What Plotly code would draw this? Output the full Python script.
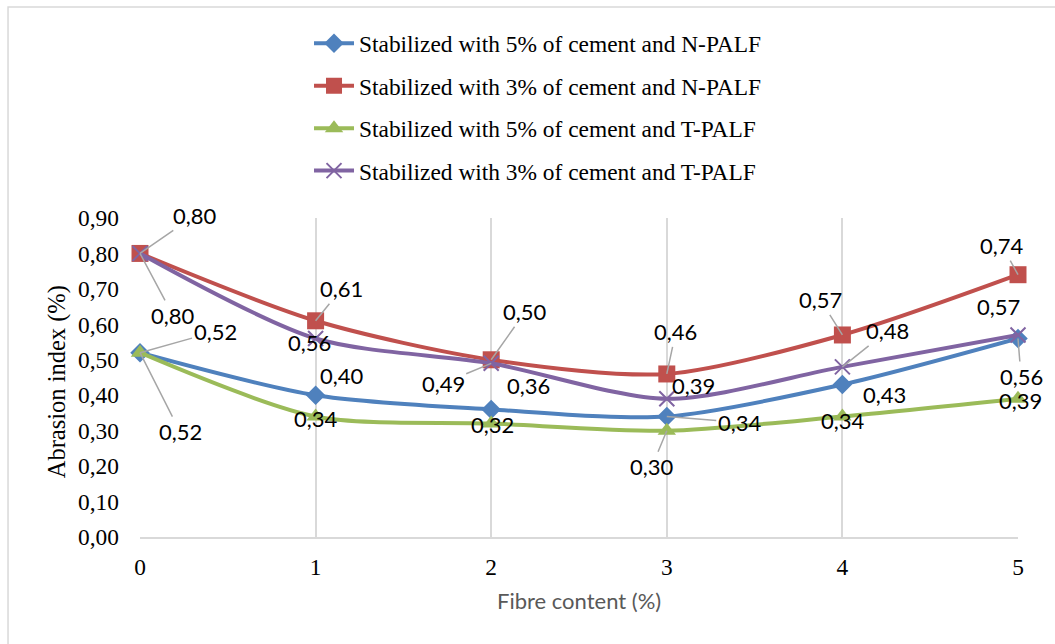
import plotly.graph_objects as go

# Fibre content (%) on the x axis
fibre = [0, 1, 2, 3, 4, 5]

# Abrasion index (%) for each mix
n_palf_5 = [0.52, 0.40, 0.36, 0.34, 0.43, 0.56]
n_palf_3 = [0.80, 0.61, 0.50, 0.46, 0.57, 0.74]
t_palf_5 = [0.52, 0.34, 0.32, 0.30, 0.34, 0.39]
t_palf_3 = [0.80, 0.56, 0.49, 0.39, 0.48, 0.57]

series_names = [
    "Stabilized with 5% of cement and N-PALF",
    "Stabilized with 3% of cement and N-PALF",
    "Stabilized with 5% of cement and T-PALF",
    "Stabilized with 3% of cement and T-PALF",
]

y_ticks = [0.0, 0.1, 0.2, 0.3, 0.4, 0.5, 0.6, 0.7, 0.8, 0.9]

# styling per series
colors = ["#4F81BD", "#C0504D", "#9BBB59", "#8064A2"]
symbols = ["diamond", "square", "triangle-up", "x-thin"]
msizes = [15, 17, 16, 15]

# label placement: pixel offsets (dx right, dy down) from each point, leader line flag
label_offsets = [
    [(75, -21, True), (26, -20, False), (37, -24, False), (73, 6, True), (42, 10, False), (3, 38, True)],
    [(55, -38, True), (26, -32, True), (34, -48, True), (9, -42, True), (-22, -35, True), (-16, -29, True)],
    [(40, 79, True), (0, 2, False), (1, 1, False), (-15, 36, True), (1, 4, False), (2, 2, False)],
    [(33, 62, True), (-6, 4, False), (-48, 20, True), (27, -13, False), (45, -36, True), (-20, -28, False)],
]

all_series = [n_palf_5, n_palf_3, t_palf_5, t_palf_3]

serif = "Liberation Serif, Times New Roman, serif"
sans = "Lato, Liberation Sans, sans-serif"

fig = go.Figure()
for i, (name, vals) in enumerate(zip(series_names, all_series)):
    marker = dict(symbol=symbols[i], size=msizes[i], color=colors[i])
    if symbols[i] == "x-thin":
        marker["line"] = dict(color=colors[i], width=2)
    fig.add_trace(go.Scatter(
        x=fibre, y=vals, name=name, mode="lines+markers",
        line=dict(color=colors[i], width=4, shape="spline", smoothing=0.8),
        marker=marker, cliponaxis=False, legendgroup=f"g{i}",
    ))

label_font = dict(family=sans, size=22, color="#000000")
annotations = []
for vals, offs in zip(all_series, label_offsets):
    for xv, yv, (dx, dy, leader) in zip(fibre, vals, offs):
        text = f"{yv:.2f}".replace(".", ",")
        if leader:
            annotations.append(dict(
                x=xv, y=yv, xref="x", yref="y", text=text, font=label_font,
                showarrow=True, arrowhead=0, arrowwidth=1.5, arrowcolor="#A6A6A6",
                ax=dx, ay=dy, standoff=0,
            ))
        else:
            annotations.append(dict(
                x=xv, y=yv, xref="x", yref="y", text=text, font=label_font,
                showarrow=False, xshift=dx, yshift=-dy,
            ))

annotations.append(dict(
    text="Fibre content (%)", x=0.5, y=-0.2, xref="paper", yref="paper",
    showarrow=False, xanchor="center", yanchor="middle",
    font=dict(family=sans, size=22, color="#595959"),
))
annotations.append(dict(
    text="Abrasion index (%)", x=-0.0945, y=0.485, xref="paper", yref="paper",
    showarrow=False, xanchor="center", yanchor="middle", textangle=-90,
    font=dict(family=serif, size=24.5, color="#000000"),
))

fig.update_layout(
    width=1055, height=644,
    margin=dict(l=140, r=37, t=218, b=107),
    paper_bgcolor="white", plot_bgcolor="white",
    separators=",.",
    showlegend=True,
    legend=dict(
        x=0.1925, y=1.6156, xanchor="left", yanchor="top",
        font=dict(family=serif, size=23.4, color="#000000"),
        tracegroupgap=9, traceorder="grouped", itemwidth=40,
        bgcolor="rgba(0,0,0,0)",
    ),
    annotations=annotations,
    shapes=[dict(
        type="rect", xref="paper", yref="paper",
        x0=-0.1503, x1=1.05, y0=-0.37, y1=1.6614,
        line=dict(color="#D9D9D9", width=1.5), fillcolor="rgba(0,0,0,0)", layer="below",
    )],
)

fig.update_xaxes(
    range=[0, 5], tickvals=fibre, ticktext=[str(v) for v in fibre],
    showgrid=True, gridcolor="#D9D9D9", gridwidth=1.5,
    showline=True, linecolor="#D9D9D9", linewidth=1.5,
    zeroline=False, ticks="", ticklabelstandoff=8,
    tickfont=dict(family=serif, size=23.4, color="#000000"),
)
fig.update_yaxes(
    range=[0, 0.9], tickvals=y_ticks, tickformat=".2f",
    showgrid=False, zeroline=False, showline=False, ticks="",
    ticklabelstandoff=20,
    tickfont=dict(family=serif, size=23.4, color="#000000"),
)

fig.write_html("out.html")
